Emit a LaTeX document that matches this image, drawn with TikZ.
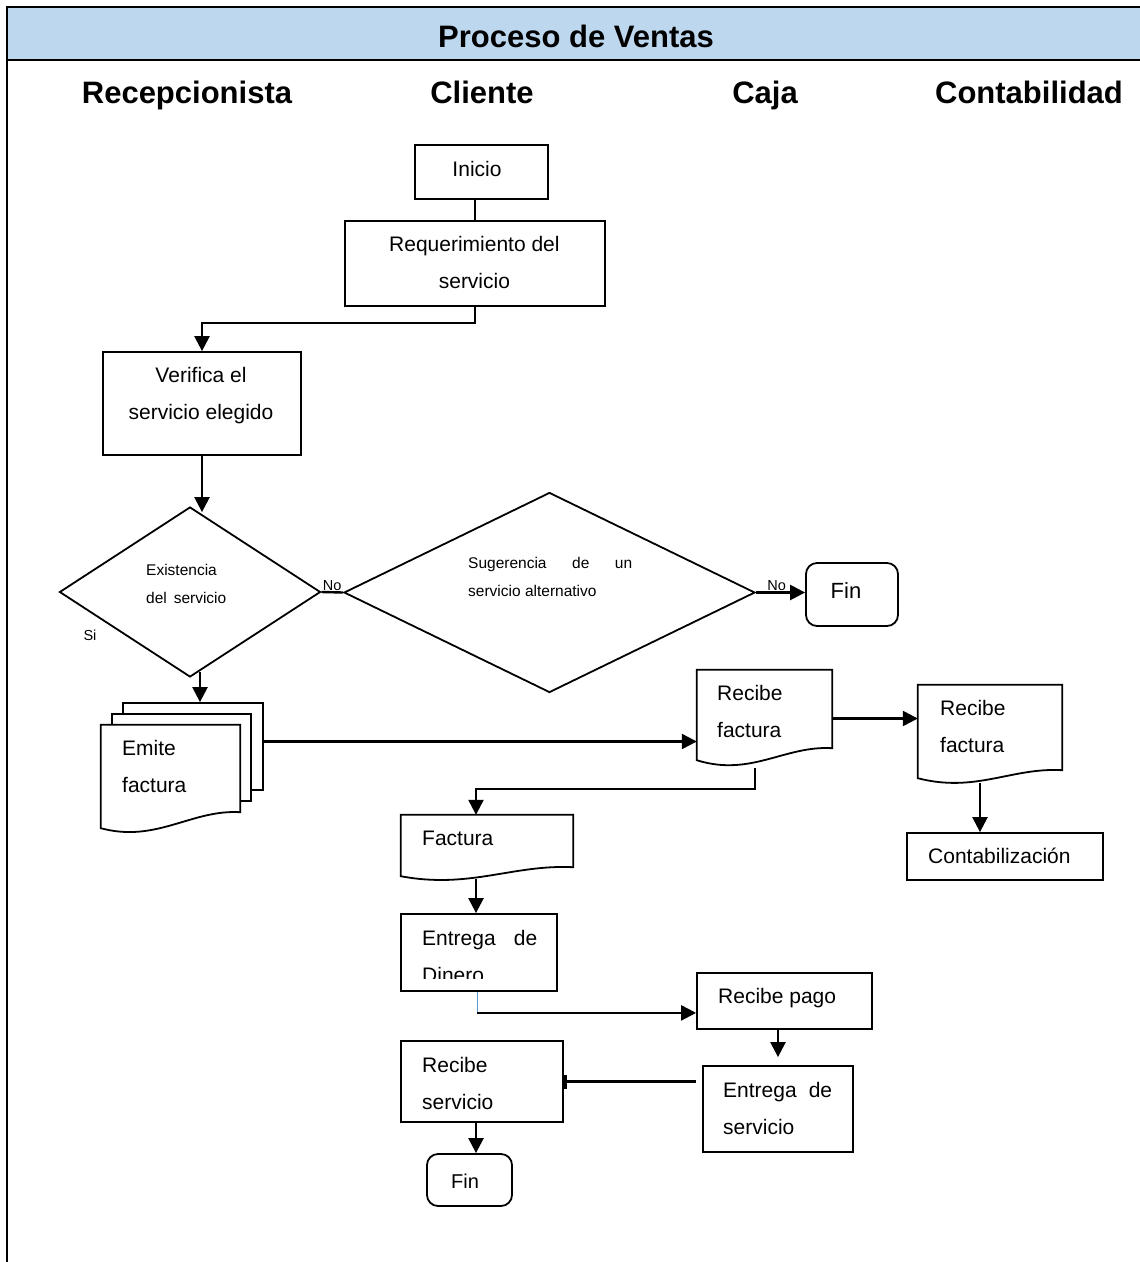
\documentclass[tikz,border=0pt]{standalone}
\usepackage{fontspec}
\setmainfont{Liberation Sans}
\usetikzlibrary{arrows.meta,shapes.geometric,calc}
\definecolor{hdr}{RGB}{189,215,238}
\definecolor{thinblue}{RGB}{91,155,213}
\newcommand\docwave[3]{%
  \draw[box] (#1.north west) -- (#1.north east) -- ([yshift=#3]#1.south east)
   .. controls ($(#1.south west)!0.65!(#1.south east)+(0pt,#3+3pt)$) and ($(#1.south west)!0.4!(#1.south east)+(0pt,-10pt)$) .. ([yshift=#2]#1.south west) -- cycle;}
\begin{document}
\begin{tikzpicture}[x=1pt,y=-1pt,
  box/.style={draw, line width=1.8pt, fill=white, inner sep=0pt},
  rbox/.style={box, rounded corners=11pt},
  docn/.style={draw=none, inner sep=0pt},
  lnk/.style={line width=2.4pt},
  arr/.style={lnk, -{Triangle[length=15pt,width=15pt]}},
  barend/.style={lnk, -{Bar[width=14pt,line width=3pt]}},
  hfont/.style={inner sep=0pt, font=\fontsize{31}{36}\selectfont\bfseries},
  txt/.style={inner sep=0pt, font=\fontsize{21}{37}\selectfont, align=left},
  ctxt/.style={txt, align=center},
  stxt/.style={inner sep=0pt, font=\fontsize{15.5}{28}\selectfont, align=left},
  lbl/.style={inner sep=0.5pt, font=\fontsize{14.5}{16}\selectfont}
]
\useasboundingbox (0,0) rectangle (1140,1262);
% frame and header
\fill[hdr] (7,7) rectangle (1140,60);
\draw[line width=2pt] (1140,7) -- (7,7) -- (7,1262);
\draw[line width=2pt] (7,60) -- (1140,60);
\node[hfont, anchor=base] (title) at (576,47) {Proceso de Ventas};
\node[hfont, anchor=base] (lane1) at (187,103) {Recepcionista};
\node[hfont, anchor=base] (lane2) at (482,103) {Cliente};
\node[hfont, anchor=base] (lane3) at (765,103) {Caja};
\node[hfont, anchor=base] (lane4) at (1029,103) {Contabilidad};

% boxes
\node[box, minimum width=133, minimum height=54] (inicio) at (481.5,172) {};
\node[txt] (tinicio) at (477,169) {Inicio};
\node[box, minimum width=260, minimum height=85] (req) at (475,263.5) {};
\node[ctxt, anchor=west] (treq) at (389,262) {Requerimiento del\\servicio};
\node[box, minimum width=198, minimum height=103] (verif) at (202,403.5) {};
\node[ctxt] (tverif) at (201,396) {Verifica el\\servicio elegido};

% decisions
\node[box, diamond, minimum width=261, minimum height=170] (d1) at (190,592) {};
\node[stxt, anchor=west] (td1) at (146,584) {Existencia\\del \,servicio};
\node[box, diamond, minimum width=411, minimum height=200] (d2) at (549.5,592.5) {};
\node[stxt, anchor=west] (td2) at (468,577) {\hbox to 164pt{Sugerencia\hfill de\hfill un}\\servicio alternativo};
\node[rbox, minimum width=92, minimum height=63] (fin1) at (852,594.5) {};
\node[inner sep=0pt, font=\fontsize{22}{26}\selectfont] (tfin1) at (846,591) {Fin};
\node[lbl] (si) at (90,635) {Si};

% Emite factura stack
\node[box, minimum width=140, minimum height=87] (emiteback) at (193,746.5) {};
\node[box, minimum width=139, minimum height=87] (emitemid) at (181.5,757.5) {};
\node[docn, minimum width=139, minimum height=108] (emite) at (170.5,779) {};
\docwave{emite}{5pt}{21pt}
\node[txt, anchor=west] (temite) at (122,766) {Emite\\factura};

% Recibe factura (Caja)
\node[docn, minimum width=135, minimum height=97] (rf1) at (764.5,718.5) {};
\docwave{rf1}{7pt}{19pt}
\node[txt, anchor=west] (trf1) at (717,711.5) {Recibe\\factura};
% Recibe factura (Contabilidad)
\node[docn, minimum width=144, minimum height=98] (rf2) at (990,734) {};
\docwave{rf2}{5pt}{13pt}
\node[txt, anchor=west] (trf2) at (940,726) {Recibe\\factura};
\node[box, minimum width=196, minimum height=47] (contab) at (1005,856.5) {};
\node[txt, anchor=west] (tcontab) at (928,856) {Contabilización};

% Factura
\node[docn, minimum width=172, minimum height=64] (fact) at (487,847) {};
\docwave{fact}{3pt}{12pt}
\node[txt, anchor=west] (tfact) at (422,838) {Factura};

% Entrega de Dinero
\node[box, minimum width=156, minimum height=77] (entrega) at (479,952.5) {};
\begin{scope}
\clip (395,905) rectangle (560,978);
\node[txt, anchor=west] (tentrega) at (422,956.5) {\hbox to 115pt{Entrega\hfill de}\\Dinero};
\end{scope}

% Recibe pago
\node[box, minimum width=175, minimum height=56] (rpago) at (784.5,1001) {};
\node[txt, anchor=west] (trpago) at (718,998) {Recibe pago};
% Entrega de servicio
\node[box, minimum width=150, minimum height=86] (eserv) at (778,1109) {};
\node[txt, anchor=west] (teserv) at (723,1108) {\hbox to 109pt{Entrega\hfill de}\\servicio};
% Recibe servicio
\node[box, minimum width=162, minimum height=81] (rserv) at (482,1081.5) {};
\node[txt, anchor=west] (trserv) at (422,1083.5) {Recibe\\servicio};
\node[rbox, minimum width=85, minimum height=52] (fin2) at (469.5,1180) {};
\node[inner sep=0pt, font=\fontsize{20}{24}\selectfont] (tfin2) at (465,1181) {Fin};

% connectors
\draw[lnk] (req.north) -- (req.north |- inicio.south);
\draw[arr] (req.south) -- ++(0,16) -| (verif.north);
\draw[arr] (verif.south) -- ($(verif.south |- d1.north)+(0,6)$);
\draw[arr] ($(d1.south)+(10,-6)$) -- ($(emiteback.north)+(7,0)$);
\draw[lnk] (d1.east) -- node[lbl, above] (no1) {No} (d2.west);
\draw[arr] (d2.east) -- node[lbl, above, pos=0.42] (no2) {No} (d2.east -| fin1.west);
\draw[arr] ([yshift=5pt]emiteback.east) -- ([yshift=5pt]emiteback.east -| rf1.west);
\draw[arr] (rf1.east) -- (rf1.east -| rf2.west);
\draw[arr] ([xshift=-10pt]rf2.south) -- ([xshift=-10pt]rf2.south |- contab.north);
\draw[arr] ([xshift=-9.5pt,yshift=-1pt]rf1.south) -- ++(0,21) -| ([xshift=-11pt]fact.north);
\draw[arr] ([xshift=-11pt]fact.south) -- ([xshift=-11pt]fact.south |- entrega.north);
\draw[thinblue, line width=1pt] ([xshift=-2pt]entrega.south) -- ++(0,21) coordinate (ec);
\draw[arr] (ec) -- (ec -| rpago.west);
\draw[arr] (rpago.south -| eserv.north) -- ([yshift=8pt]eserv.north);
\draw[barend] ([xshift=-6pt]eserv.west |- rserv.east) -- (rserv.east);
\draw[arr] ([xshift=-6pt]rserv.south) -- ([xshift=-6pt]rserv.south |- fin2.north);
\end{tikzpicture}
\end{document}
